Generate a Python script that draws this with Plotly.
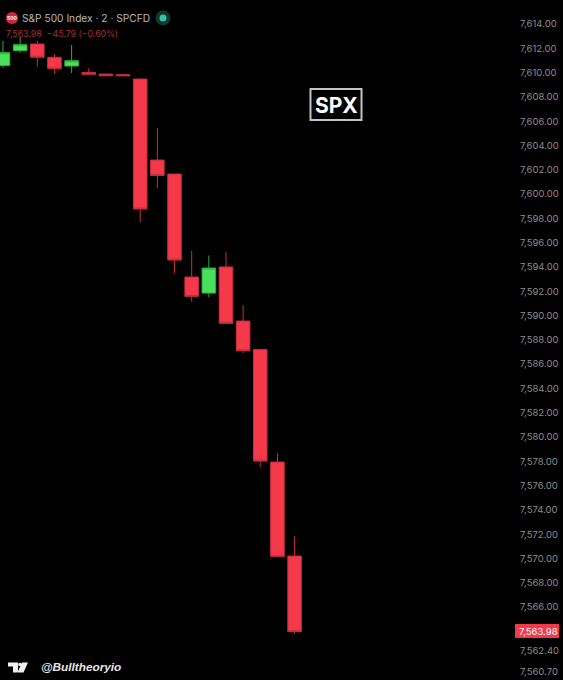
import plotly.graph_objects as go

candle_index = list(range(18))
open_values = [7610.58, 7611.80, 7612.35, 7611.26, 7610.54, 7610.02, 7609.88, 7609.83, 7609.47,
               7602.80, 7601.65, 7593.17, 7591.85, 7594.00, 7589.55, 7587.20, 7577.94, 7570.20]
high_values = [7612.60, 7612.93, 7612.63, 7611.53, 7612.27, 7610.35, 7609.88, 7609.83, 7609.47,
               7605.44, 7601.65, 7595.34, 7594.95, 7595.23, 7590.87, 7587.20, 7578.68, 7571.85]
low_values = [7610.38, 7611.64, 7610.48, 7609.88, 7609.97, 7609.82, 7609.74, 7609.74, 7597.70,
              7600.50, 7593.50, 7591.14, 7591.50, 7589.36, 7586.91, 7577.53, 7570.16, 7563.78]
close_values = [7611.65, 7612.30, 7611.26, 7610.32, 7610.98, 7609.86, 7609.74, 7609.74, 7598.77,
                7601.53, 7594.57, 7591.58, 7593.91, 7589.36, 7587.10, 7578.02, 7570.16, 7563.98]
tick_values = [7614, 7612, 7610, 7608, 7606, 7604, 7602, 7600, 7598, 7596, 7594, 7592, 7590,
               7588, 7586, 7584, 7582, 7580, 7578, 7576, 7574, 7572, 7570, 7568, 7566, 7562.40, 7560.70]
last_price = 7563.98

W, H, PLOT_W = 563, 680, 515
RED, GREEN = "#f5384a", "#4be05c"
UI = "Inter, 'Liberation Sans', sans-serif"


def px(x):
    return x / PLOT_W


def py(y):
    return 1 - y / H


def note(x, y, text, size, color, anchor="left", **kw):
    return dict(xref="paper", yref="paper", x=px(x), y=py(y), text=text, showarrow=False,
                xanchor=anchor, yanchor="middle", font=dict(family=kw.pop("family", UI), size=size, color=color), **kw)


def dot(cx, cy, r, color):
    return dict(type="circle", xref="paper", yref="paper", x0=px(cx - r), x1=px(cx + r),
                y0=py(cy + r), y1=py(cy - r), fillcolor=color, line_width=0)


fig = go.Figure(go.Candlestick(
    x=candle_index, open=open_values, high=high_values, low=low_values, close=close_values,
    whiskerwidth=0,
    increasing=dict(fillcolor=GREEN, line=dict(color="#2fae42", width=1)),
    decreasing=dict(fillcolor=RED, line=dict(color="#c42f3d", width=1)),
    showlegend=False,
))

fig.update_layout(
    width=W, height=H, autosize=False,
    margin=dict(l=0, r=W - PLOT_W, t=0, b=0),
    paper_bgcolor="#000000", plot_bgcolor="#000000",
    boxgap=0.21, boxgroupgap=0,
    xaxis=dict(range=[-0.175, 29.85], visible=False, rangeslider=dict(visible=False), fixedrange=True),
    yaxis=dict(range=[7560.0, 7615.976], side="right", showgrid=False, zeroline=False, showline=False,
               tickmode="array", tickvals=tick_values, tickformat=",.2f",
               ticks="outside", ticklen=2, tickcolor="rgba(0,0,0,0)",
               tickfont=dict(family=UI, size=9.5, color="#8c8c8c")),
    shapes=[
        dot(12, 18, 6, "#d9233b"),
        dot(163, 18, 7.5, "#10362e"),
        dot(163, 18, 3.5, "#35c3a0"),
        dict(type="rect", xref="paper", yref="paper", x0=px(310.5), x1=px(361.5), y0=py(120), y1=py(89),
             line=dict(color="#c4c4c4", width=2), fillcolor="rgba(0,0,0,0)"),
        dict(type="rect", xref="paper", yref="paper", x0=px(515), x1=px(559), y0=py(638), y1=py(624),
             line_width=0, fillcolor="#f23a4b", layer="above"),
        dict(type="path", xref="paper", yref="paper", fillcolor="#f0f0f0", line_width=0,
             path=" ".join([
                 f"M{px(8)} {py(662.5)} H{px(18)} V{py(672.5)} H{px(13)} V{py(666.5)} H{px(8)} Z",
                 f"M{px(22)} {py(662.5)} H{px(28)} L{px(23.5)} {py(672.5)} H{px(17.5)} Z",
             ])),
        dot(20, 664.5, 1.8, "#f0f0f0"),
    ],
    annotations=[
        note(12, 18, "<b>500</b>", 5, "#ffffff", anchor="center"),
        note(19.5, 18, "S&P 500 Index · 2 · SPCFD", 10.2, "#b9b9b9"),
        note(4, 33, "7,563.98  −45.79 (−0.60%)", 8.8, "#a52f3a"),
        note(336, 105, "<b>SPX</b>", 21, "#ffffff", anchor="center"),
        note(538, 631, f"{last_price:,.2f}", 9.5, "#ffffff", anchor="center"),
        note(38.5, 667, "<b><i>@Bulltheoryio</i></b>", 11.8, "#e6e6e6", family="'Liberation Sans', sans-serif"),
    ],
)

fig.write_html("out.html", config=dict(displayModeBar=False), post_script="document.body.style.margin='0';")
